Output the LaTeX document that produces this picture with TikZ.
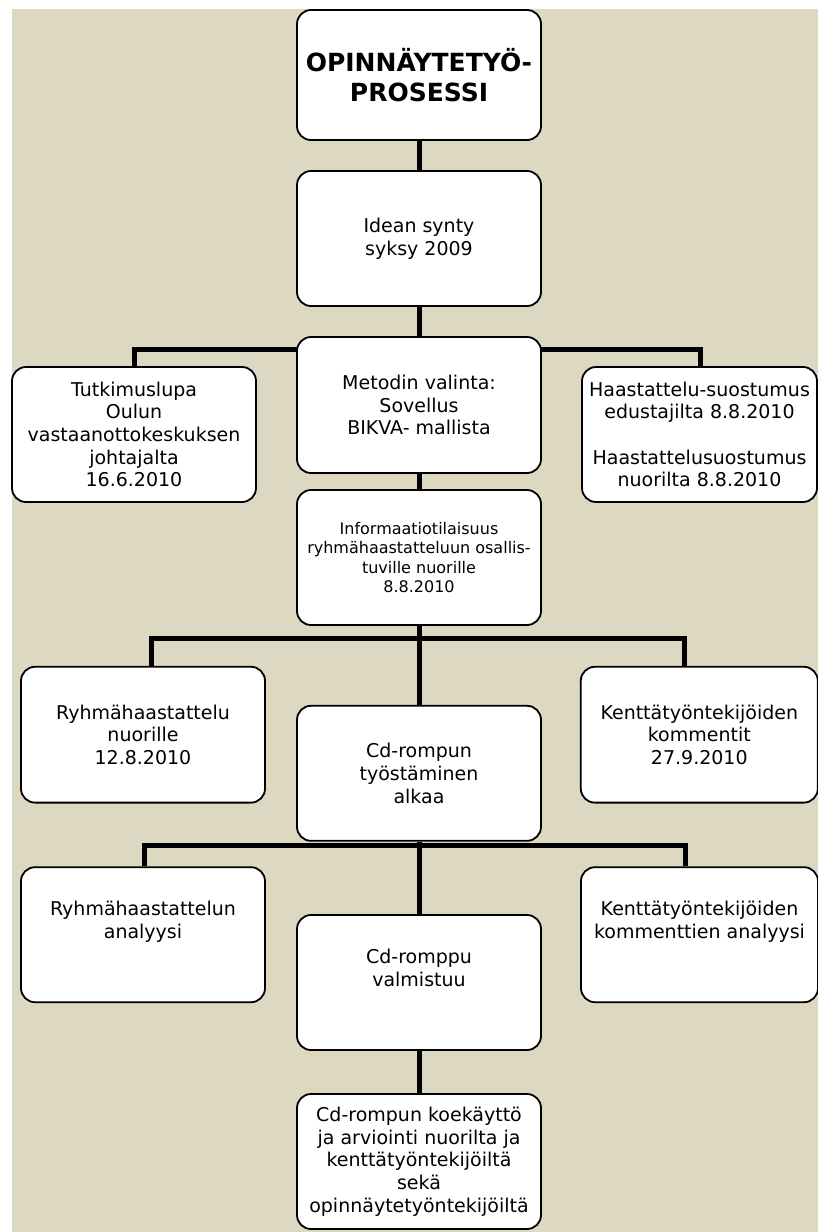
\documentclass[tikz,border=0pt]{standalone}
\usepackage{fontspec}
\setmainfont{DejaVu Sans}
\usetikzlibrary{backgrounds}
\definecolor{bg}{RGB}{221,216,194}
\begin{document}
\begin{tikzpicture}[x=1pt,y=-1pt,
  box/.style={draw=black, line width=1.8pt, fill=white, rounded corners=14pt,
    inner sep=0pt, align=center, minimum width=244pt, minimum height=135pt,
    font=\fontsize{19}{22.7}\selectfont},
  small/.style={font=\fontsize{16}{19.4}\selectfont},
  titlefont/.style={font=\fontsize{25}{30}\bfseries\selectfont},
  conn/.style={line width=5pt, black, line join=miter}]
\useasboundingbox (0,0) rectangle (818,1232);
% boxes
\node[box, titlefont, minimum height=130pt] (A) at (419,75) {OPINNÄYTETYÖ-\\PROSESSI};
\node[box] (B) at (419,238.5) {Idean synty\\syksy 2009};
\node[box, minimum height=136pt] (C) at (419,405) {Metodin valinta:\\Sovellus\\BIKVA- mallista};
\node[box] (D) at (134,434.5) {Tutkimuslupa\\Oulun\\vastaanottokeskuksen\\johtajalta\\16.6.2010};
\node[box, minimum width=235pt] (E) at (699.5,434.5) {Haastattelu-suostumus\\edustajilta 8.8.2010\\[22.7pt]Haastattelusuostumus\\nuorilta 8.8.2010};
\node[box, small] (F) at (419,557.5) {Informaatiotilaisuus\\ryhmähaastatteluun osallis-\\tuville nuorille\\8.8.2010};
\node[box, minimum height=135.8pt] (H) at (143,734.7) {Ryhmähaastattelu\\nuorille\\12.8.2010};
\node[box, minimum width=237pt, minimum height=135.8pt] (I) at (699.3,734.7) {Kenttätyöntekijöiden\\kommentit\\27.9.2010};
\node[box] (G) at (419,773.3) {Cd-rompun\\työstäminen\\alkaa};
\node[box] (J) at (143,934.7) {Ryhmähaastattelun\\analyysi\\\strut};
\node[box, minimum width=237pt] (K) at (699.5,934.7) {Kenttätyöntekijöiden\\kommenttien analyysi\\\strut};
\node[box] (L) at (419,982.5) {Cd-romppu\\valmistuu\\\strut};
\node[box] (M) at (419,1161.5) {Cd-rompun koekäyttö\\ja arviointi nuorilta ja\\kenttätyöntekijöiltä\\sekä\\opinnäytetyöntekijöiltä};
% bar coordinates
\coordinate (b1l) at (134,349.5);
\coordinate (b1r) at (700,349.5);
\coordinate (b2l) at (151,638.5);
\coordinate (b2r) at (684,638.5);
\coordinate (b3l) at (144,845.5);
\coordinate (b3r) at (685,845.5);
\begin{scope}[on background layer]
  \fill[white] (0,0) rectangle (818,1232);
  \fill[bg] (12,9) rectangle (818,1232);
  \draw[conn] (A.south) -- (B.north);
  \draw[conn] (B.south) -- (C.north);
  \draw[conn] (D.north -| b1l) -- (b1l) -- (b1r) -- (E.north -| b1r);
  \draw[conn] (C.south) -- (F.north);
  \draw[conn] (F.south) -- (G.north);
  \draw[conn] (H.north -| b2l) -- (b2l) -- (b2r) -- (I.north -| b2r);
  \draw[conn] (G.south) -- (L.north);
  \draw[conn] (J.north -| b3l) -- (b3l) -- (b3r) -- (K.north -| b3r);
  \draw[conn] (L.south) -- (M.north);
\end{scope}
\end{tikzpicture}
\end{document}
